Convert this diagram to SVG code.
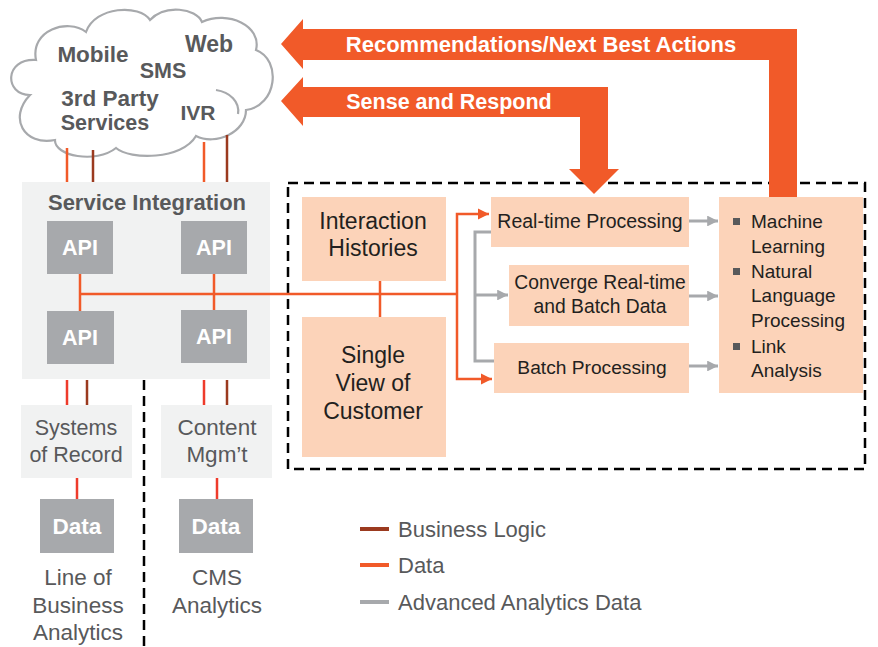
<svg xmlns="http://www.w3.org/2000/svg" width="878" height="647" viewBox="0 0 878 647">
<defs>
<style>
.t{font-family:"Liberation Sans","Open Sans",Arial,sans-serif}
.b{font-weight:bold}
.gt{fill:#58595b}
.dk{fill:#231f20}
.peach{fill:#fcd3b9}
.lg{fill:#f1f2f2}
.mg{fill:#a7a9ac}
.or{stroke:#f15a29;stroke-width:2.5;fill:none}
.orr{stroke:#ee3b2b;stroke-width:2.5;fill:none}
.br{stroke:#9b3a1f;stroke-width:2.5;fill:none}
.gr{stroke:#a7a9ac;stroke-width:3;fill:none}
.dash{stroke:#000;stroke-width:2.5;fill:none;stroke-dasharray:10 6}
</style>
<marker id="ao" viewBox="0 0 10 10" refX="10" refY="5" markerWidth="4.5" markerHeight="4.5" orient="auto" markerUnits="strokeWidth"><path d="M0,0 L10,5 L0,10 Z" fill="#f15a29"/></marker>
<marker id="ag" viewBox="0 0 10 10" refX="10" refY="5" markerWidth="3.6" markerHeight="3.6" orient="auto" markerUnits="strokeWidth"><path d="M0,0 L10,5 L0,10 Z" fill="#a7a9ac"/></marker>
</defs>
<rect width="878" height="647" fill="#fff"/>

<!-- dashed boundaries -->
<rect class="dash" x="288" y="183" width="577" height="286"/>
<line class="dash" x1="144" y1="380" x2="144" y2="647"/>

<!-- cloud -->
<g id="cloud">
<path d="M30,95 C4,95 4,58 36,60 C30,30 68,18 86,32 C95,6 140,4 150,20 C165,4 196,8 202,22 C228,10 262,26 256,50 C282,60 277,106 246,110 C246,132 216,146 196,136 C182,160 130,160 116,148 C96,164 54,156 55,140 C24,146 8,118 30,95 Z" fill="#fff" stroke="#a7a9ac" stroke-width="2.2"/>
<path d="M216,90 C230,92 240,102 238,114" fill="none" stroke="#a7a9ac" stroke-width="2.2"/>
<text class="t b gt" x="93" y="62" font-size="22.5" text-anchor="middle">Mobile</text>
<text class="t b gt" x="209" y="52" font-size="23" text-anchor="middle">Web</text>
<text class="t b gt" x="163" y="78" font-size="21.5" text-anchor="middle">SMS</text>
<text class="t b gt" x="110" y="106" font-size="22.5" text-anchor="middle">3rd Party</text>
<text class="t b gt" x="105" y="130" font-size="21.5" text-anchor="middle">Services</text>
<text class="t b gt" x="198" y="120" font-size="21" text-anchor="middle">IVR</text>
</g>

<!-- big arrows -->
<g id="arrow-recommendations">
<path d="M281,44 L303,19 L303,29 L797,29 L797,197 L769,197 L769,60 L303,60 L303,69 Z" fill="#f15a29"/>
<text class="t b" x="541" y="52" font-size="22" fill="#fff" text-anchor="middle">Recommendations/Next Best Actions</text>
</g>
<g id="arrow-sense">
<path d="M281,101 L303,77 L303,87 L608,87 L608,169 L619,169 L594,194 L569,169 L580,169 L580,117 L303,117 L303,126 Z" fill="#f15a29"/>
<text class="t b" x="449" y="109" font-size="21.5" fill="#fff" text-anchor="middle">Sense and Respond</text>
</g>

<!-- service integration -->
<g id="service-integration">
<rect class="lg" x="22" y="182" width="248" height="197"/>
<text class="t b gt" x="147" y="210" font-size="22" text-anchor="middle">Service Integration</text>
</g>
<g id="api-1"><rect class="mg" x="47" y="221" width="66" height="53"/><text class="t b" x="80" y="255" font-size="21.5" fill="#fff" text-anchor="middle">API</text></g>
<g id="api-2"><rect class="mg" x="181" y="221" width="66" height="53"/><text class="t b" x="214" y="255" font-size="21.5" fill="#fff" text-anchor="middle">API</text></g>
<g id="api-3"><rect class="mg" x="47" y="311" width="67" height="53"/><text class="t b" x="80" y="345" font-size="21.5" fill="#fff" text-anchor="middle">API</text></g>
<g id="api-4"><rect class="mg" x="181" y="310" width="66" height="53"/><text class="t b" x="214" y="344" font-size="21.5" fill="#fff" text-anchor="middle">API</text></g>

<!-- lower left -->
<g id="systems-of-record"><rect class="lg" x="21" y="405" width="111" height="73"/>
<text class="t gt" x="76" y="435" font-size="21.5" text-anchor="middle">Systems</text>
<text class="t gt" x="76" y="462" font-size="21.5" text-anchor="middle">of Record</text></g>
<g id="content-mgmt"><rect class="lg" x="161" y="405" width="111" height="73"/>
<text class="t gt" x="217" y="435" font-size="22.5" text-anchor="middle">Content</text>
<text class="t gt" x="217" y="462" font-size="22.5" text-anchor="middle">Mgm’t</text></g>
<g id="data-1"><rect class="mg" x="40" y="499" width="74" height="54"/><text class="t b" x="77" y="534" font-size="22.5" fill="#fff" text-anchor="middle">Data</text></g>
<g id="data-2"><rect class="mg" x="179" y="499" width="74" height="54"/><text class="t b" x="216" y="534" font-size="22.5" fill="#fff" text-anchor="middle">Data</text></g>
<g id="lob-analytics">
<text class="t gt" x="78" y="585" font-size="22.5" text-anchor="middle">Line of</text>
<text class="t gt" x="78" y="613" font-size="22.5" text-anchor="middle">Business</text>
<text class="t gt" x="78" y="640" font-size="22.5" text-anchor="middle">Analytics</text></g>
<g id="cms-analytics">
<text class="t gt" x="217" y="585" font-size="22.5" text-anchor="middle">CMS</text>
<text class="t gt" x="217" y="613" font-size="22.5" text-anchor="middle">Analytics</text></g>

<!-- right side -->
<g id="interaction-histories"><rect class="peach" x="302" y="197" width="144" height="84"/>
<text class="t dk" x="373" y="229" font-size="23" text-anchor="middle">Interaction</text>
<text class="t dk" x="373" y="256" font-size="23" text-anchor="middle">Histories</text></g>
<g id="single-view"><rect class="peach" x="302" y="317" width="144" height="140"/>
<text class="t dk" x="373" y="363" font-size="23" text-anchor="middle">Single</text>
<text class="t dk" x="373" y="391" font-size="23" text-anchor="middle">View of</text>
<text class="t dk" x="373" y="419" font-size="23" text-anchor="middle">Customer</text></g>
<g id="real-time"><rect class="peach" x="491" y="197" width="198" height="50"/>
<text class="t dk" x="590" y="228" font-size="19.5" text-anchor="middle">Real-time Processing</text></g>
<g id="converge"><rect class="peach" x="509" y="265" width="180" height="61"/>
<text class="t dk" x="600" y="289" font-size="19.3" text-anchor="middle">Converge Real-time</text>
<text class="t dk" x="600" y="313" font-size="19.3" text-anchor="middle">and Batch Data</text></g>
<g id="batch"><rect class="peach" x="494" y="343" width="195" height="50"/>
<text class="t dk" x="592" y="374" font-size="19.2" text-anchor="middle">Batch Processing</text></g>
<g id="analytics"><rect class="peach" x="719" y="197" width="144" height="196"/>
<rect x="733" y="218" width="7" height="7" fill="#58595b"/>
<rect x="733" y="268" width="7" height="7" fill="#58595b"/>
<rect x="733" y="343" width="7" height="7" fill="#58595b"/>
<text class="t dk" font-size="19"><tspan x="751" y="228">Machine</tspan><tspan x="751" y="253">Learning</tspan><tspan x="751" y="278">Natural</tspan><tspan x="751" y="302">Language</tspan><tspan x="751" y="327">Processing</tspan><tspan x="751" y="353">Link</tspan><tspan x="751" y="377">Analysis</tspan></text>
</g>

<!-- connectors -->
<g id="connectors">
<line class="or" x1="67" y1="148" x2="67" y2="182"/>
<line class="br" x1="93" y1="150" x2="93" y2="182"/>
<line class="or" x1="204" y1="142" x2="204" y2="182"/>
<line class="br" x1="227" y1="135" x2="227" y2="182"/>
<line class="or" x1="80" y1="274" x2="80" y2="311"/>
<line class="or" x1="214" y1="274" x2="214" y2="310"/>
<line class="or" x1="80" y1="294" x2="457" y2="294"/>
<line class="or" x1="380" y1="281" x2="380" y2="317"/>
<path class="or" d="M457,294 V214 H489" marker-end="url(#ao)"/>
<path class="or" d="M457,294 V379 H492" marker-end="url(#ao)"/>
<path class="gr" d="M491,232 H475 V361 H494"/>
<line class="gr" x1="475" y1="295" x2="508" y2="295" marker-end="url(#ag)"/>
<line class="gr" x1="689" y1="221" x2="718" y2="221" marker-end="url(#ag)"/>
<line class="gr" x1="689" y1="296" x2="718" y2="296" marker-end="url(#ag)"/>
<line class="gr" x1="689" y1="366" x2="718" y2="366" marker-end="url(#ag)"/>
<line class="orr" x1="67" y1="380" x2="67" y2="405"/>
<line class="br" x1="87" y1="380" x2="87" y2="405"/>
<line class="orr" x1="204" y1="380" x2="204" y2="405"/>
<line class="br" x1="227" y1="380" x2="227" y2="405"/>
<line class="orr" x1="77" y1="478" x2="77" y2="499"/>
<line class="orr" x1="217" y1="478" x2="217" y2="499"/>
</g>

<!-- legend -->
<g id="legend">
<line x1="360" y1="529" x2="389" y2="529" stroke="#9b3a1f" stroke-width="4"/>
<line x1="360" y1="565" x2="389" y2="565" stroke="#f15a29" stroke-width="4"/>
<line x1="360" y1="602" x2="389" y2="602" stroke="#a7a9ac" stroke-width="4"/>
<text class="t gt" x="398" y="537" font-size="22" >Business Logic</text>
<text class="t gt" x="398" y="573" font-size="22">Data</text>
<text class="t gt" x="398" y="610" font-size="22">Advanced Analytics Data</text>
</g>
</svg>
